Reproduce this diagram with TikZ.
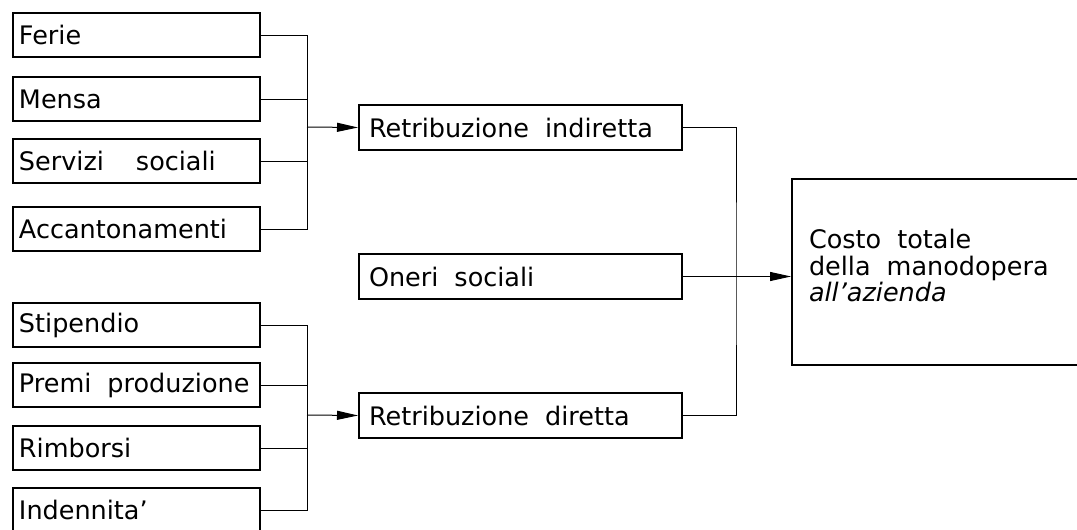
\documentclass[tikz,border=0pt]{standalone}
\usepackage{fontspec}
\setmainfont{DejaVu Sans}
\usetikzlibrary{arrows.meta}
\tikzset{
    voce/.style={draw,line width=2pt,anchor=north west,minimum height=44pt,
      text width=235pt,inner xsep=6pt,inner ysep=0pt,align=left,
      font=\fontsize{25.5}{26.5}\selectfont,
      execute at begin node={\spaceskip=16pt plus 2pt\relax}},
    gruppo/.style={voce,text width=303pt,inner xsep=10pt,minimum height=45pt},
    totale/.style={voce,text width=260pt,inner xsep=17pt,minimum height=186pt},
    filo/.style={line width=1pt},
    freccia/.style={filo,-{Triangle[length=21pt,width=9pt]}},
  }
\begin{document}
\begin{tikzpicture}[x=1pt,y=-1pt]
	  \useasboundingbox (0,0) rectangle (1077,530);
	  \clip (0,0) rectangle (1077,530);

	  %VOCI indirette
	  \node[voce] (ferie) at (12,12) {Ferie};
	  \node[voce] (mensa) at (12,76) {Mensa};
	  \node[voce] (servizi) at (12,138) {Servizi\hspace{32pt}sociali};
	  \node[voce] (accant) at (12,206) {Accantonamenti};

	  %VOCI dirette
	  \node[voce] (stip) at (12,302) {Stipendio};
	  \node[voce] (premi) at (12,362) {Premi produzione};
	  \node[voce] (rimb) at (12,425) {Rimborsi};
	  \node[voce] (inden) at (12,487) {Indennita'};

	  %GRUPPI
	  \node[gruppo] (indir) at (358,104) {Retribuzione indiretta};
	  \node[gruppo] (oneri) at (358,253) {Oneri sociali};
	  \node[gruppo] (dir) at (358,392) {Retribuzione diretta};

	  %TOTALE
	  \node[totale,text depth=66pt] (tot) at (791,178) {Costo totale\\della manodopera\\\textit{all'azienda}};

	  %collettori sinistra
	  \coordinate (bus1) at (307,127);
	  \coordinate (bus2) at (307,415);
	  \draw[filo] (ferie.east) -| (bus1);
	  \draw[filo] (mensa.east) -| (bus1);
	  \draw[filo] (servizi.east) -| (bus1);
	  \draw[filo] (accant.east) -| (bus1);
	  \draw[freccia] (bus1) -- (indir.west);
	  \draw[filo] (stip.east) -| (bus2);
	  \draw[filo] (premi.east) -| (bus2);
	  \draw[filo] (rimb.east) -| (bus2);
	  \draw[filo] (inden.east) -| (bus2);
	  \draw[freccia] (bus2) -- (dir.west);

	  %collettore destra
	  \coordinate (bus3) at (736,276);
	  \draw[filo] (indir.east) -| (bus3) |- (dir.east);
	  \draw[freccia] (oneri.east) -- (oneri.east -| tot.west);

\end{tikzpicture}
\end{document}
